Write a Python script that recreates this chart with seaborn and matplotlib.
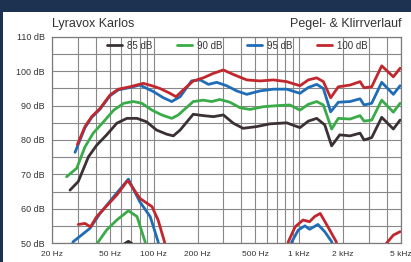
import numpy as np
import pandas as pd
import matplotlib
matplotlib.use('Agg')
import matplotlib.pyplot as plt
import seaborn as sns
from matplotlib.patches import Rectangle

sns.set_theme(style='white')
plt.rcParams['font.family'] = ['Liberation Sans', 'DejaVu Sans']

# Pegelverlauf (Frequenz in Hz, Pegel in dB)
f_85 = [26.6, 30.3, 35.6, 40.6, 47.5, 55.8, 65.4, 76.8, 89.3, 104.6, 122.7, 136.4, 151.9, 187, 219, 257, 301,
        352, 411, 509, 628, 820, 1012, 1155, 1319, 1498, 1670, 1900, 2234, 2618, 2789, 3149, 3689, 4435, 4933]
db_85 = [65.4, 67.9, 75.1, 78.5, 81.5, 84.9, 86.3, 86.3, 85.3, 82.9, 81.7, 81.2, 82.9, 87.5, 87.1, 86.8, 87.3,
         84.9, 83.4, 83.9, 84.7, 85.0, 83.6, 85.5, 86.3, 84.4, 78.3, 81.5, 81.2, 82.0, 80.0, 80.7, 86.6, 83.2, 85.8]

f_90 = [25.2, 29.6, 33.7, 38.4, 45.2, 53.1, 62.3, 72.5, 82.8, 97.3, 113.5, 133, 147.6, 187, 219, 250, 285, 334,
        392, 459, 566, 700, 864, 1012, 1155, 1319, 1465, 1670, 1857, 2234, 2618, 2789, 3149, 3689, 4435, 4933]
db_90 = [69.3, 71.8, 78.0, 82.0, 85.3, 88.7, 90.7, 91.2, 90.7, 88.7, 87.3, 86.3, 87.3, 91.2, 91.6, 91.2, 91.8, 91.0,
         89.4, 88.9, 89.7, 90.0, 90.2, 88.7, 90.4, 91.2, 90.2, 83.2, 86.3, 86.1, 87.1, 85.5, 85.8, 91.6, 88.1, 90.7]

f_95 = [28.8, 33.7, 37.5, 42.8, 50.1, 57.1, 68.7, 80.3, 99.4, 116.6, 133, 151.9, 182, 208.6, 237.8, 271, 317, 372,
        436, 538, 664, 820, 1012, 1155, 1319, 1465, 1645, 1857, 2234, 2618, 2789, 3149, 3689, 4435, 4933]
db_95 = [76.4, 83.6, 86.6, 89.0, 92.9, 94.6, 95.3, 96.0, 94.1, 92.3, 91.2, 92.6, 97.2, 97.5, 96.2, 96.8, 95.8, 94.3,
         93.3, 94.3, 94.8, 94.8, 93.6, 95.3, 96.2, 95.0, 88.2, 91.0, 91.2, 92.0, 90.2, 90.7, 96.8, 93.3, 95.8]

f_100 = [29.9, 33.7, 37.5, 42.8, 50.1, 57.1, 68.7, 84.9, 97.3, 110.5, 129.4, 142.4, 159.8, 187, 219, 257, 301, 352,
         436, 538, 664, 820, 1012, 1155, 1319, 1465, 1645, 1857, 2234, 2618, 2789, 3149, 3689, 4435, 4933]
db_100 = [78.7, 83.9, 86.8, 89.2, 93.1, 94.8, 95.5, 96.5, 95.8, 95.0, 93.6, 92.6, 94.6, 97.2, 98.1, 99.4, 100.4,
          99.1, 97.5, 97.2, 97.5, 97.0, 95.8, 97.5, 98.1, 97.0, 92.3, 95.5, 96.0, 97.0, 95.2, 95.5, 101.6, 98.4, 100.9]

# Klirrverlauf (Pegel der Verzerrungen in dB)
k_f_85 = [63, 67, 71]
k_db_85 = [49.8, 50.5, 49.8]

k_f_90 = [40.0, 41.7, 47.5, 55.8, 67, 76.8, 87.2, 89]
k_db_90 = [48.5, 50.4, 53.8, 56.7, 59.4, 57.7, 50.4, 48.5]

k_f_95_a = [27.0, 28.0, 31.9, 36.5, 42.8, 53.1, 67, 80.3, 94.6, 107.2, 109]
k_db_95_a = [48.5, 50.4, 52.3, 54.3, 58.6, 63.5, 68.6, 62.0, 57.7, 50.4, 48.5]
k_f_95_b = [870, 890, 986, 1094, 1178, 1345, 1498, 1670, 1710]
k_db_95_b = [48.5, 50.4, 53.8, 55.0, 54.0, 55.4, 53.3, 50.4, 48.5]

k_f_100_a = [30.3, 33.7, 36.8, 40.6, 47.5, 55.8, 65.4, 66.7, 80.3, 97.3, 107.2, 118.5, 121]
k_db_100_a = [55.4, 55.7, 54.7, 57.7, 60.8, 64.0, 67.9, 68.1, 63.0, 60.6, 56.7, 50.4, 48.5]
k_f_100_b = [825, 842, 937, 1062, 1178, 1276, 1395, 1575, 1795, 1830]
k_db_100_b = [48.5, 50.4, 54.7, 56.7, 56.2, 57.7, 58.6, 54.7, 50.4, 48.5]
k_f_100_c = [3850, 3995, 4435, 4933]
k_db_100_c = [48.5, 50.0, 52.3, 53.3]

x_ticks = [20, 50, 100, 200, 500, 1000, 2000, 5000]
x_tick_labels = ['20 Hz', '50 Hz', '100 Hz', '200 Hz', '500 Hz', '1 kHz', '2 kHz', '5 kHz']
y_ticks = [50, 60, 70, 80, 90, 100, 110]
y_tick_labels = ['50 dB', '60 dB', '70 dB', '80 dB', '90 dB', '100 dB', '110 dB']

c_85 = '#3b3133'
c_90 = '#3aab49'
c_95 = '#1f6db7'
c_100 = '#c1272d'

fig = plt.figure(figsize=(4.11, 2.62), dpi=100)
fig.patch.set_facecolor('#1d3251')
fig.patches.append(Rectangle((0.0073, 0), 1.0, 0.954, transform=fig.transFigure,
                             facecolor='white', edgecolor='none', zorder=-5))
ax = fig.add_axes([0.1265, 0.0725, 0.849, 0.7863])
ax.set_zorder(2)
ax.set_facecolor('white')

# Raster
grid_x = list(range(20, 100, 10)) + list(range(100, 1000, 100)) + list(range(1000, 5001, 1000))
for gx in grid_x:
    ax.axvline(gx, color='#888888', lw=0.8, zorder=1)
for gy in range(50, 111, 5):
    ax.axhline(gy, color='#888888', lw=0.8, zorder=1)

lw = 2.0
series = [(f_85, db_85, c_85, '85 dB'), (f_90, db_90, c_90, '90 dB'),
          (f_95, db_95, c_95, '95 dB'), (f_100, db_100, c_100, '100 dB')]
for fx, dy, col, lab in series:
    sns.lineplot(x=fx, y=dy, color=col, lw=lw, label=lab, ax=ax, zorder=3, sort=False)

klirr = [(k_f_85, k_db_85, c_85), (k_f_90, k_db_90, c_90),
         (k_f_95_a, k_db_95_a, c_95), (k_f_95_b, k_db_95_b, c_95),
         (k_f_100_a, k_db_100_a, c_100), (k_f_100_b, k_db_100_b, c_100),
         (k_f_100_c, k_db_100_c, c_100)]
for fx, dy, col in klirr:
    sns.lineplot(x=fx, y=dy, color=col, lw=lw, ax=ax, zorder=3, sort=False, legend=False)

ax.set_xscale('log')
ax.set_xlim(20, 5000)
ax.set_ylim(50, 110)
ax.set_xticks(x_ticks)
ax.set_xticklabels(x_tick_labels)
ax.set_yticks(y_ticks)
ax.set_yticklabels(y_tick_labels)
ax.minorticks_off()
ax.tick_params(axis='both', length=0, colors='#333333')
ax.tick_params(axis='x', pad=5.5, labelsize=6)
ax.tick_params(axis='y', pad=5, labelsize=6.5)
ax.set_xlabel('')
ax.set_ylabel('')
for sp in ax.spines.values():
    sp.set_color('#7a7a7a')
    sp.set_linewidth(0.9)

leg = ax.legend(loc='center', bbox_to_anchor=(0.531, 0.958), ncol=4, frameon=False,
                fontsize=7, handlelength=1.6, handletextpad=0.5, columnspacing=2.5)
for t in leg.get_texts():
    t.set_color('#333333')

fig.text(0.1265, 0.91, 'Lyravox Karlos', fontsize=9, color='#333333', ha='left', va='center', zorder=3)
fig.text(0.9757, 0.91, 'Pegel- & Klirrverlauf', fontsize=9, color='#333333', ha='right', va='center', zorder=3)

fig.savefig('out.png', dpi=100, facecolor=fig.get_facecolor())
